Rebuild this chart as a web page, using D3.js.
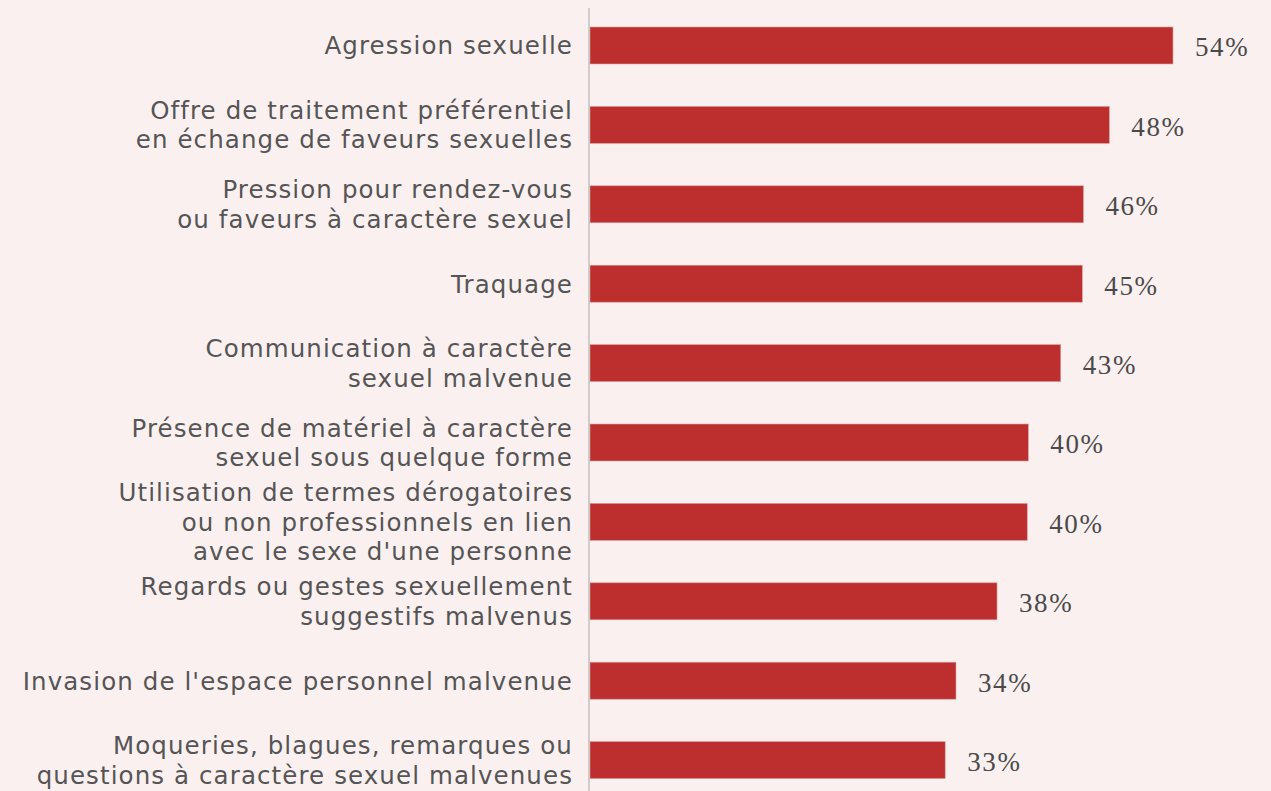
<!DOCTYPE html>
<html>
<head>
<meta charset="utf-8">
<script src="https://cdn.jsdelivr.net/npm/d3@7"></script>
<style>
  body { margin: 0; background: #fbf0f0; }
  svg { display: block; }
</style>
</head>
<body>
<div id="container"></div>
<script>
const categories = [
  ["Agression sexuelle"],
  ["Offre de traitement préférentiel", "en échange de faveurs sexuelles"],
  ["Pression pour rendez-vous", "ou faveurs à caractère sexuel"],
  ["Traquage"],
  ["Communication à caractère", "sexuel malvenue"],
  ["Présence de matériel à caractère", "sexuel sous quelque forme"],
  ["Utilisation de termes dérogatoires", "ou non professionnels en lien", "avec le sexe d'une personne"],
  ["Regards ou gestes sexuellement", "suggestifs malvenus"],
  ["Invasion de l'espace personnel malvenue"],
  ["Moqueries, blagues, remarques ou", "questions à caractère sexuel malvenues"]
];
const values = [54, 48.1, 45.7, 45.6, 43.6, 40.6, 40.5, 37.7, 33.9, 32.9];
const valueLabels = ["54%", "48%", "46%", "45%", "43%", "40%", "40%", "38%", "34%", "33%"];

const width = 1271, height = 791;
const x0 = 590;

let svg = d3.select("#container").append("svg")
  .attr("width", width)
  .attr("height", height);

let ids = categories.map((d, i) => i);

let xScale = d3.scaleLinear().domain([0, 54]).range([x0, 1173]);
let yScale = d3.scaleBand()
  .domain(ids)
  .range([5.8, 799.8])
  .paddingInner(0.534)
  .paddingOuter(0.267);

svg.selectAll("rect.bar")
  .data(values)
  .enter()
  .append("rect")
  .attr("class", "bar")
  .attr("x", xScale(0))
  .attr("y", (d, i) => yScale(i))
  .attr("width", (d) => xScale(d) - xScale(0))
  .attr("height", yScale.bandwidth())
  .attr("fill", "#bd2e2e")
  .attr("stroke", "#d9a0a0")
  .attr("stroke-width", 0.6);

// vertical axis line
svg.append("line")
  .attr("x1", x0 - 1)
  .attr("x2", x0 - 1)
  .attr("y1", 8)
  .attr("y2", height)
  .attr("stroke", "#b8b4b4")
  .attr("stroke-width", 1.2);

// category labels
let lineH = 29.5;
let labels = svg.selectAll("text.cat")
  .data(categories)
  .enter()
  .append("text")
  .attr("class", "cat")
  .attr("text-anchor", "end")
  .attr("font-family", "'DejaVu Sans', sans-serif")
  .attr("font-size", 24.5)
  .attr("letter-spacing", 1.1)
  .attr("fill", "#555555");

labels.each(function (lines, i) {
  let cy = yScale(i) + yScale.bandwidth() / 2;
  let top = cy - (lines.length - 1) * lineH / 2;
  d3.select(this).selectAll("tspan")
    .data(lines)
    .enter()
    .append("tspan")
    .attr("x", 573)
    .attr("y", (d, j) => top + j * lineH)
    .attr("dy", "0.36em")
    .text((d) => d);
});

// value labels
svg.selectAll("text.val")
  .data(values)
  .enter()
  .append("text")
  .attr("class", "val")
  .attr("x", (d) => xScale(d) + 22)
  .attr("y", (d, i) => yScale(i) + yScale.bandwidth() / 2)
  .attr("dy", "0.4em")
  .attr("font-family", "'Liberation Serif', serif")
  .attr("font-size", 27)
  .attr("letter-spacing", 1.6)
  .attr("fill", "#4a4a4a")
  .text((d, i) => valueLabels[i]);
</script>
</body>
</html>
